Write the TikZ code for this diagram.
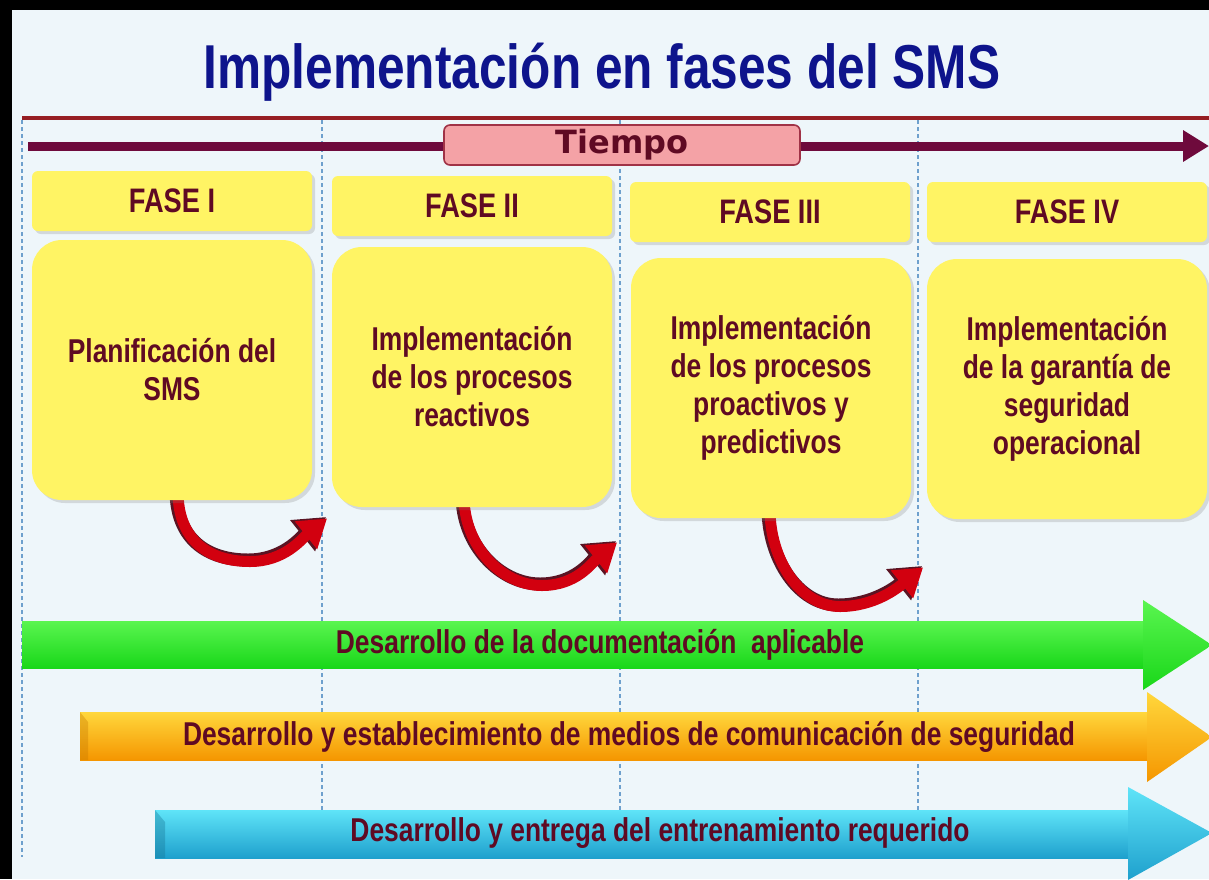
\documentclass[tikz,border=0pt]{standalone}
\usepackage{fontspec}
\usetikzlibrary{arrows.meta,shadows}
\newfontfamily\narrowfont[FakeStretch=0.8]{Liberation Sans}
\newfontfamily\tiempofont{DejaVu Sans}

\definecolor{bgcol}{RGB}{238,246,250}
\definecolor{titleblue}{RGB}{14,20,140}
\definecolor{txtmaroon}{RGB}{95,10,35}
\definecolor{redline}{RGB}{150,30,35}
\definecolor{timecol}{RGB}{110,10,60}
\definecolor{tiempofill}{RGB}{244,162,166}
\definecolor{tiempoedge}{RGB}{160,50,70}
\definecolor{boxyellow}{RGB}{255,244,100}
\definecolor{dashcol}{RGB}{110,160,205}
\definecolor{benddark}{RGB}{90,20,35}
\definecolor{bendred}{RGB}{210,0,15}
\definecolor{greentop}{RGB}{90,245,80}
\definecolor{greenbot}{RGB}{25,215,25}
\definecolor{orangetop}{RGB}{255,215,60}
\definecolor{orangebot}{RGB}{245,150,0}
\definecolor{bluetop}{RGB}{95,228,248}
\definecolor{bluebot}{RGB}{30,160,205}

\tikzset{
	phasehead/.style={fill=boxyellow, rounded corners=3pt, minimum width=140pt, minimum height=30pt, inner sep=0pt,
		drop shadow={opacity=0.25, shadow xshift=1.5pt, shadow yshift=-1.5pt},
		text=txtmaroon, font=\narrowfont\bfseries\fontsize{17}{20}\selectfont},
	phasebody/.style={fill=boxyellow, rounded corners=15pt, minimum width=140pt, minimum height=130pt, inner sep=0pt,
		drop shadow={opacity=0.25, shadow xshift=1.5pt, shadow yshift=-1.5pt},
		align=center, text=txtmaroon, font=\narrowfont\bfseries\fontsize{16.5}{19}\selectfont},
	timebox/.style={fill=tiempofill, draw=tiempoedge, line width=0.8pt, rounded corners=3pt,
		minimum width=178pt, minimum height=20pt, inner sep=0pt,
		text=txtmaroon, font=\tiempofont\bfseries\fontsize{16}{18}\selectfont},
	bartext/.style={inner sep=0pt, text=txtmaroon, font=\narrowfont\bfseries\fontsize{16.5}{19}\selectfont},
	phaseline/.style={draw=dashcol, line width=0.9pt, dash pattern=on 2pt off 1.5pt},
	bendshade/.style={line width=6.5pt, draw=benddark, -{Triangle[length=15pt,width=19pt]}},
	bendfront/.style={line width=5.5pt, draw=bendred, -{Triangle[length=13.5pt,width=17pt]}},
}

\def\bendarrow(#1)(#2)(#3){%
	\draw[bendshade] (#1) .. controls +(0,50) and +(-40,0) .. (#2) .. controls +(35,0) and +(-25,20) .. (#3);
	\draw[bendfront] ([shift={(2,1.5)}]#1) .. controls +(0,50) and +(-40,0) .. ([shift={(2,1.5)}]#2) .. controls +(35,0) and +(-25,20) .. ([shift={(1,1.5)}]#3);
}

\begin{document}
\begin{tikzpicture}[x=0.5pt, y=-0.5pt]
			%%%%% START %%%%%
			
			\useasboundingbox (0,0) rectangle (1209,879);
			\fill[bgcol] (0,0) rectangle (1209,879);
			\fill[black] (0,0) rectangle (1209,10);
			\fill[black] (0,0) rectangle (12,879);
			
			\node[anchor=base, inner sep=0pt, text=titleblue, font=\narrowfont\bfseries\fontsize{31}{36}\selectfont] (title) at (602,88) {Implementación en fases del SMS};
			
			% phase separators
			\foreach \px in {22,322,620,918}
				\draw[phaseline] (\px,120) -- (\px,857);
			
			% time axis
			\coordinate (tl0) at (22,118);
			\coordinate (tl1) at (1209,118);
			\draw[line width=2pt, redline] (tl0) -- (tl1);
			\coordinate (ta0) at (28,146);
			\coordinate (ta1) at (1209,146);
			\draw[line width=4.5pt, timecol, -{Triangle[length=13pt,width=15pt]}] (ta0) -- (ta1);
			\node[timebox] (tiempo) at (622,145) {Tiempo};
			
			% bent arrows between phases
			\coordinate (a1s) at (176,490);
			\coordinate (a1b) at (248,560);
			\coordinate (a1t) at (326,517);
			\coordinate (a2s) at (462,495);
			\coordinate (a2b) at (540,584);
			\coordinate (a2t) at (616,541);
			\coordinate (a3s) at (768,508);
			\coordinate (a3b) at (838,605);
			\coordinate (a3t) at (922,566);
			\bendarrow(a1s)(a1b)(a1t)
			\bendarrow(a2s)(a2b)(a2t)
			\bendarrow(a3s)(a3b)(a3t)
			
			% phases
			\node[phasehead] (f1) at (172,201) {FASE I};
			\node[phasehead] (f2) at (472,206) {FASE II};
			\node[phasehead] (f3) at (770,212) {FASE III};
			\node[phasehead] (f4) at (1067,212) {FASE IV};
			
			\node[phasebody] (b1) at (172,370) {Planificación del\\SMS};
			\node[phasebody] (b2) at (472,377) {Implementación\\de los procesos\\reactivos};
			\node[phasebody] (b3) at (771,388) {Implementación\\de los procesos\\proactivos y\\predictivos};
			\node[phasebody] (b4) at (1067,389) {Implementación\\de la garantía de\\seguridad\\operacional};
			
			% long running activities
			\shade[top color=greentop, bottom color=greenbot] (22,621) rectangle (1145,668);
			\shade[top color=greentop, bottom color=greenbot] (1143,600) -- (1212,645) -- (1143,690) -- cycle;
			\node[bartext] (docu) at (600,645) {Desarrollo de la documentación\ \ aplicable};
			
			\shade[top color=orangetop, bottom color=orangebot] (80,712) rectangle (1149,760);
			\shade[top color=orangetop, bottom color=orangebot] (1147,692) -- (1212,737) -- (1147,782) -- cycle;
			\fill[orangebot!80!black, opacity=0.35] (80,712) -- (88,722) -- (88,760) -- (80,760) -- cycle;
			\node[bartext] (comu) at (629,737) {Desarrollo y establecimiento de medios de comunicación de seguridad};
			
			\shade[top color=bluetop, bottom color=bluebot] (155,810) rectangle (1130,858);
			\shade[top color=bluetop, bottom color=bluebot] (1128,787) -- (1212,833) -- (1128,880) -- cycle;
			\fill[bluebot!70!black, opacity=0.35] (155,810) -- (165,822) -- (165,858) -- (155,858) -- cycle;
			\node[bartext] (entr) at (660,833) {Desarrollo y entrega del entrenamiento requerido};
			
			%%%%% END %%%%%
\end{tikzpicture}
\end{document}
